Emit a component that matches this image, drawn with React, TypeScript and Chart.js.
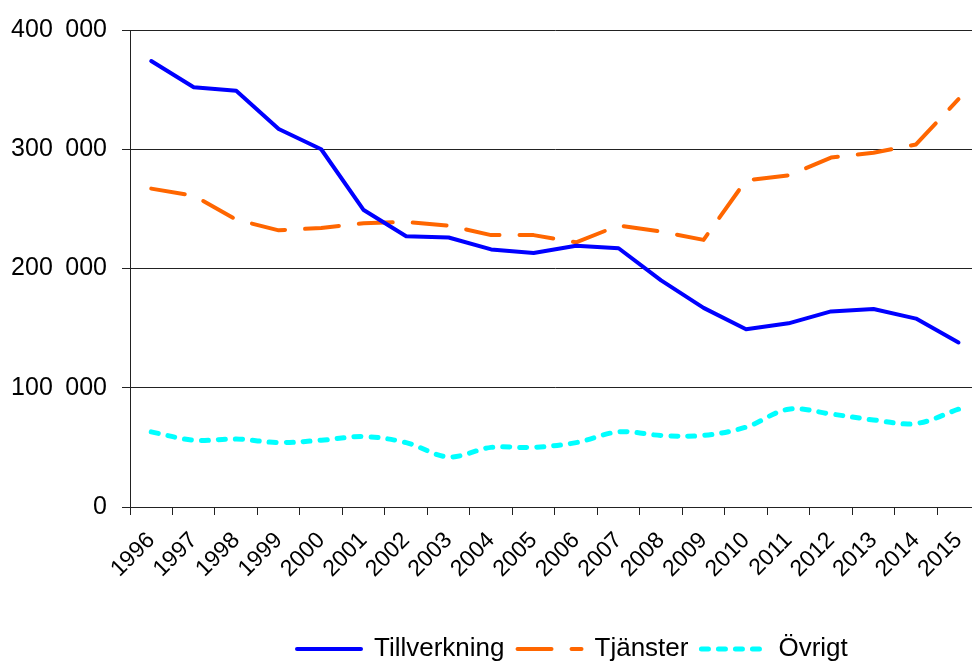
import React, { useEffect, useRef } from 'react';
import { Chart, registerables } from 'chart.js';

Chart.register(...registerables);

const years = ['1996', '1997', '1998', '1999', '2000', '2001', '2002', '2003', '2004', '2005', '2006', '2007', '2008', '2009', '2010', '2011', '2012', '2013', '2014', '2015'];

const tillverkning = [374000, 352000, 349000, 317000, 300000, 249000, 227000, 226000, 216000, 213000, 219000, 217000, 190000, 167000, 149000, 154000, 164000, 166000, 158000, 138000];
const tjanster = [267000, 261000, 241000, 232000, 234000, 238000, 239000, 236000, 228000, 228000, 222000, 236000, 231000, 224000, 274000, 278000, 293000, 297000, 304000, 342000];
const ovrigt = [63000, 56000, 57000, 54000, 56000, 59000, 54000, 42000, 50000, 50000, 54000, 63000, 60000, 60000, 67000, 82000, 78000, 73000, 70000, 82000];

const yTickLabels = ['0', '100 000', '200 000', '300 000', '400 000'];
const seriesNames = ['Tillverkning', 'Tjänster', 'Övrigt'];

const FONT = '"Liberation Sans", Arial, Helvetica, sans-serif';

export default function App() {
  const ref = useRef<HTMLCanvasElement>(null);

  useEffect(() => {
    if (!ref.current) return;
    const legendShift = {
      id: 'legendShift',
      afterLayout(chart: any) {
        const l = chart.legend;
        if (!l) return;
        const dx = 284 - l.left;
        l.left += dx;
        l.right += dx;
        l.top += 10;
        l.bottom += 10;
      },
    };
    const chart = new Chart(ref.current, {
      type: 'line',
      data: {
        labels: years,
        datasets: [
          {
            label: seriesNames[0],
            data: tillverkning,
            borderColor: '#0000FF',
            backgroundColor: '#0000FF',
            borderWidth: 4,
            pointRadius: 0,
            tension: 0,
            borderJoinStyle: 'round',
            borderCapStyle: 'round',
            fill: false,
          },
          {
            label: seriesNames[1],
            data: tjanster,
            borderColor: '#FF6600',
            backgroundColor: '#FF6600',
            borderWidth: 4,
            borderDash: [34, 20],
            pointRadius: 0,
            tension: 0,
            borderJoinStyle: 'round',
            borderCapStyle: 'round',
            fill: false,
          },
          {
            label: seriesNames[2],
            data: ovrigt,
            borderColor: '#00FFFF',
            backgroundColor: '#00FFFF',
            borderWidth: 5,
            borderDash: [7, 10],
            pointRadius: 0,
            tension: 0.35,
            borderJoinStyle: 'round',
            borderCapStyle: 'round',
            fill: false,
          },
        ],
      },
      options: {
        responsive: false,
        animation: false,
        devicePixelRatio: 1,
        layout: { padding: { left: 10, top: 27, right: 0, bottom: 0 } },
        scales: {
          x: {
            offset: true,
            grid: {
              display: true,
              drawOnChartArea: false,
              drawTicks: true,
              tickLength: 8,
              offset: true,
              color: '#222222',
            },
            border: { display: true, color: '#222222' },
            ticks: {
              color: '#000000',
              font: { family: FONT, size: 23 },
              minRotation: 45,
              maxRotation: 45,
              autoSkip: false,
              padding: 12,
            },
            afterFit: (s: any) => {
              s.height = 106;
            },
          },
          y: {
            min: 0,
            max: 400000,
            ticks: {
              stepSize: 100000,
              color: '#000000',
              font: { family: FONT, size: 25 },
              padding: 15,
              callback: (_v: any, i: number) => (yTickLabels[i] || '').replace(' ', '\u2002'),
            },
            grid: { color: '#222222', lineWidth: 1, drawTicks: true, tickLength: 8 },
            border: { display: true, color: '#222222' },
            afterFit: (s: any) => {
              s.width = 120;
            },
          },
        },
        plugins: {
          legend: {
            position: 'bottom',
            align: 'start',
            labels: {
              usePointStyle: true,
              pointStyleWidth: 64,
              padding: 13,
              color: '#000000',
              font: { family: FONT, size: 26 },
              generateLabels: (c: any) =>
                c.data.datasets.map((ds: any, i: number) => ({
                  text: ds.label,
                  strokeStyle: ds.borderColor,
                  fillStyle: ds.borderColor,
                  lineWidth: ds.borderWidth,
                  lineDash: ds.borderDash || [],
                  lineCap: 'round',
                  lineJoin: 'round',
                  pointStyle: 'line',
                  hidden: false,
                  datasetIndex: i,
                  fontColor: '#000000',
                })),
            },
          },
          tooltip: { enabled: false },
        },
      },
      plugins: [legendShift],
    } as any);
    return () => chart.destroy();
  }, []);

  return (
    <div
      style={{
        position: 'absolute',
        left: 0,
        top: 0,
        width: 972,
        height: 662,
        overflow: 'hidden',
        background: '#ffffff',
      }}
    >
      <canvas ref={ref} width={990} height={662} style={{ display: 'block', width: 990, height: 662 }} />
    </div>
  );
}
